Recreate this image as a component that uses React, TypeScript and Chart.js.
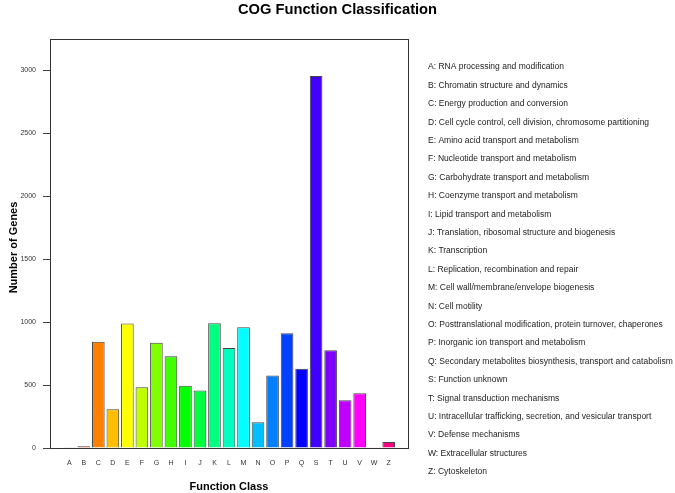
import React, { useEffect, useRef } from "react";
import { Chart, registerables } from "chart.js";

Chart.register(...registerables);

const categories = ["A","B","C","D","E","F","G","H","I","J","K","L","M","N","O","P","Q","S","T","U","V","W","Z"];
const geneCounts = [5,13,845,308,989,483,837,730,494,457,991,794,959,204,577,911,630,2955,776,380,435,1,48];
const barColors = ["#FF0000","#FF4000","#FF8000","#FFBF00","#FFFF00","#BFFF00","#80FF00","#40FF00","#00FF00","#00FF40","#00FF80","#00FFBF","#00FFFF","#00BFFF","#0080FF","#0040FF","#0000FF","#4000FF","#8000FF","#BF00FF","#FF00FF","#FF00BF","#FF0080"];
const descriptions = [
  "A: RNA processing and modification",
  "B: Chromatin structure and dynamics",
  "C: Energy production and conversion",
  "D: Cell cycle control, cell division, chromosome partitioning",
  "E: Amino acid transport and metabolism",
  "F: Nucleotide transport and metabolism",
  "G: Carbohydrate transport and metabolism",
  "H: Coenzyme transport and metabolism",
  "I: Lipid transport and metabolism",
  "J: Translation, ribosomal structure and biogenesis",
  "K: Transcription",
  "L: Replication, recombination and repair",
  "M: Cell wall/membrane/envelope biogenesis",
  "N: Cell motility",
  "O: Posttranslational modification, protein turnover, chaperones",
  "P: Inorganic ion transport and metabolism",
  "Q: Secondary metabolites biosynthesis, transport and catabolism",
  "S: Function unknown",
  "T: Signal transduction mechanisms",
  "U: Intracellular trafficking, secretion, and vesicular transport",
  "V: Defense mechanisms",
  "W: Extracellular structures",
  "Z: Cytoskeleton",
];
const yTickValues = [0, 500, 1000, 1500, 2000, 2500, 3000];
const yMax = 3250;
const chartTitle = "COG Function Classification";
const xTitle = "Function Class";
const yTitle = "Number of Genes";

const FONT = "'Liberation Sans', Arial, Helvetica, sans-serif";

const decorPlugin = {
  id: "decor",
  afterDraw(chart: any) {
    const { ctx, chartArea } = chart;
    const { left, right, top, bottom } = chartArea;
    ctx.save();
    // box
    ctx.strokeStyle = "#333";
    ctx.lineWidth = 1;
    ctx.strokeRect(Math.round(left) + 0.5, Math.round(top) + 0.5, Math.round(right - left), Math.round(bottom - top));
    // title
    ctx.fillStyle = "#000";
    ctx.textAlign = "center";
    ctx.textBaseline = "middle";
    ctx.font = `bold 14.7px ${FONT}`;
    ctx.fillText(chartTitle, 675 / 2, 9.5);
    // x title
    ctx.font = `bold 11px ${FONT}`;
    ctx.fillText(xTitle, (left + right) / 2, 487);
    // y title
    ctx.save();
    ctx.translate(14, (top + bottom) / 2 + 4);
    ctx.rotate(-Math.PI / 2);
    ctx.fillText(yTitle, 0, 0);
    ctx.restore();
    // description list
    ctx.font = `8.5px ${FONT}`;
    ctx.fillStyle = "#222";
    ctx.textAlign = "left";
    descriptions.forEach((d, i) => {
      ctx.fillText(d, 428, 67 + i * 18.4);
    });
    ctx.restore();
  },
};

export default function App() {
  const canvasRef = useRef<HTMLCanvasElement | null>(null);

  useEffect(() => {
    document.body.style.margin = "0";
    const canvas = canvasRef.current;
    if (!canvas) return;
    const chart = new Chart(canvas, {
      type: "bar",
      data: {
        datasets: [
          {
            data: geneCounts.map((v, i) => ({ x: i, y: v })),
            backgroundColor: barColors,
            borderColor: "#444",
            borderWidth: 1,
            barPercentage: 0.87,
            categoryPercentage: 1,
          },
        ],
      },
      options: {
        responsive: false,
        animation: false,
        devicePixelRatio: 1,
        layout: { padding: { left: 0, right: 267, top: 39, bottom: 0 } },
        plugins: {
          legend: { display: false },
          tooltip: { enabled: false },
          title: { display: false },
        },
        scales: {
          x: {
            type: "linear",
            offset: false,
            min: -1.33,
            max: categories.length - 1 + 1.33,
            grid: { display: false, drawTicks: false, offset: false },
            border: { display: false },
            afterBuildTicks: (scale: any) => {
              scale.ticks = categories.map((_, i) => ({ value: i }));
            },
            afterFit: (scale: any) => {
              scale.height = 45;
            },
            ticks: {
              autoSkip: false,
              maxRotation: 0,
              padding: 11,
              color: "#333",
              font: { size: 7, family: FONT },
              callback: (v: any) => categories[v as number] ?? "",
            },
          },
          y: {
            min: 0,
            max: yMax,
            grid: { drawOnChartArea: false, drawTicks: true, tickLength: 7, color: "#444" },
            border: { display: false },
            afterBuildTicks: (scale: any) => {
              scale.ticks = yTickValues.map((v) => ({ value: v }));
            },
            afterFit: (scale: any) => {
              scale.width = 50;
            },
            ticks: {
              padding: 7,
              color: "#333",
              font: { size: 7, family: FONT },
              callback: (v: any) => String(v),
            },
          },
        },
      },
      plugins: [decorPlugin],
    } as any);
    return () => chart.destroy();
  }, []);

  return (
    <div style={{ width: 675, height: 493 }}>
      <canvas ref={canvasRef} width={675} height={493} style={{ display: "block" }} />
    </div>
  );
}
